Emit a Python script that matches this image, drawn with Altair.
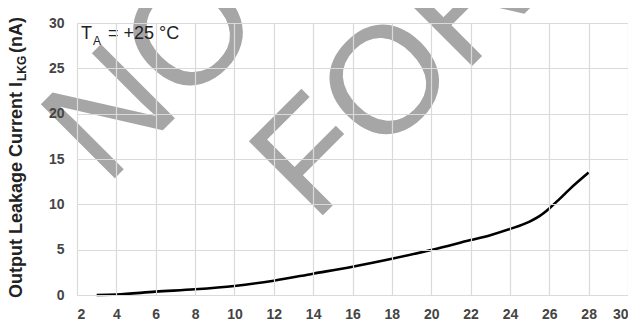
import altair as alt
import pandas as pd

# Curve: output leakage current vs supply voltage
supply_v = [3, 4, 6, 8, 10, 12, 14, 16, 18, 20, 22, 23, 24, 25, 25.5, 26, 26.5, 27, 28]
leak_na = [0, 0.05, 0.37, 0.63, 1.0, 1.58, 2.35, 3.12, 4.0, 4.96, 6.06, 6.6, 7.28, 8.1, 8.7, 9.55, 10.55, 11.6, 13.5]

x_ticks = list(range(2, 31, 2))
y_ticks = list(range(0, 31, 5))

watermark_words = ["NO", "FOR"]
title_main = "Output Leakage Current I"
title_sub = "LKG"
title_unit = "(nA)"
note_main = "T"
note_sub = "A"
note_rest = "= +25 °C"

df = pd.DataFrame({"v": supply_v, "i": leak_na})

W, H = 551, 272
FONT = "Liberation Sans"

x_scale = alt.Scale(domain=[2, 30], nice=False)
y_scale = alt.Scale(domain=[0, 30], nice=False)

line = alt.Chart(df).mark_line(
    color="black", strokeWidth=2.6, interpolate="monotone"
).encode(
    x=alt.X("v:Q", scale=x_scale,
            axis=alt.Axis(values=x_ticks, title=None, grid=True, ticks=False,
                          domain=False, labelPadding=12, labelFontSize=14,
                          labelFontWeight="bold", labelColor="#444444",
                          labelFont=FONT, gridColor="#dadada", gridWidth=1.2,
                          zindex=1)),
    y=alt.Y("i:Q", scale=y_scale,
            axis=alt.Axis(values=y_ticks, title=None, grid=True, ticks=False,
                          domain=False, labelPadding=13, labelFontSize=14,
                          labelFontWeight="bold", labelColor="#444444",
                          labelFont=FONT, gridColor="#dadada", gridWidth=1.2,
                          zindex=1)),
)


def txt(word, x, y, size, weight="normal", color="#222222", angle=0,
        baseline="alphabetic", align="left"):
    kw = dict(fontSize=size, font=FONT, fontWeight=weight, color=color,
              align=align, baseline=baseline)
    if angle:
        kw["angle"] = angle
    return alt.Chart(pd.DataFrame({"t": [word]})).mark_text(**kw).encode(
        x=alt.value(x), y=alt.value(y), text="t:N")


wm_color = "#a6a6a6"
wm1 = txt(watermark_words[0], 29, 164, 152, color=wm_color, angle=315)
wm2 = txt(watermark_words[1], 237, 201, 152, color=wm_color, angle=315)

# y-axis title built from pieces (subscript)
t1 = txt(title_main, -55, 275, 18, weight="bold", angle=270)
t2 = txt(title_sub, -51, 58, 12, weight="bold", angle=270)
t3 = txt(title_unit, -55, 30, 18, weight="bold", angle=270)

# annotation T_A = +25 °C
n1 = txt(note_main, 4, 16, 18)
n2 = txt(note_sub, 16, 22, 12)
n3 = txt(note_rest, 31, 16, 18)

chart = alt.layer(wm1, wm2, line, t1, t2, t3, n1, n2, n3).properties(
    width=W, height=H,
    autosize=alt.AutoSizeParams(type="none"),
    padding={"left": 69, "top": 15, "right": 0, "bottom": 27},
).configure_view(stroke="#cccccc", strokeWidth=1.2).configure(background="white")

chart.save("out.html", embed_options={"renderer": "svg", "actions": False})
